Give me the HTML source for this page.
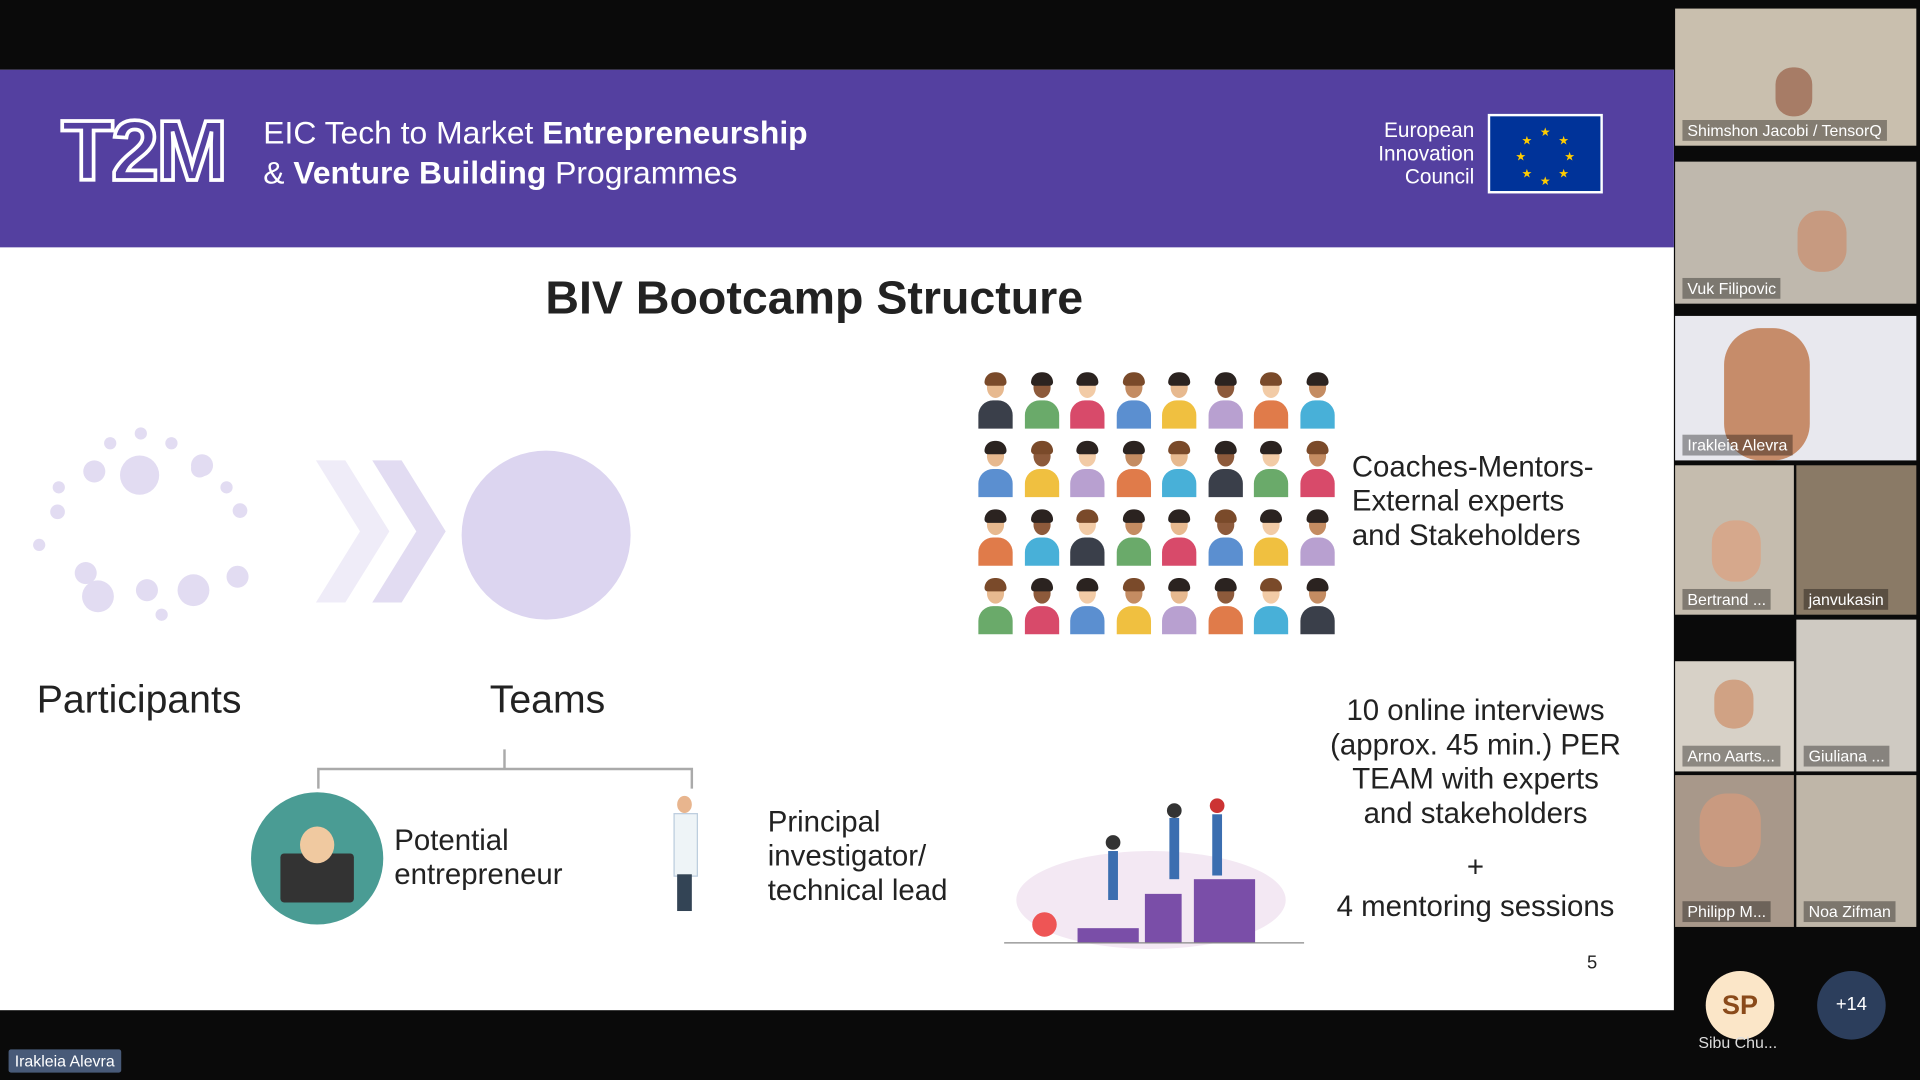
<!DOCTYPE html>
<html><head><meta charset="utf-8"><style>
html,body{margin:0;padding:0;background:#000;width:1920px;height:1080px;overflow:hidden}
#s{position:absolute;left:0;top:0;width:1568px;height:882px;transform:scale(1.22449);transform-origin:0 0;background:#0a0a0a;font-family:"Liberation Sans",sans-serif}
.a{position:absolute}
.t{color:#222;font-size:24px;line-height:28px}
.tile{position:absolute;background:#6b625a;overflow:hidden}
.nm{position:absolute;left:6px;bottom:4px;color:#fff;font-size:13px;background:rgba(0,0,0,.35);padding:1px 4px}
.av{position:absolute;width:30px;height:46px}
.av .h{position:absolute;left:8px;top:4px;width:14px;height:17px;border-radius:50%;background:#e7b98f}
.av .hr{position:absolute;left:6px;top:0;width:18px;height:11px;border-radius:9px 9px 3px 3px;background:#333}
.av .b{position:absolute;left:1px;top:23px;width:28px;height:23px;border-radius:12px 12px 0 0;background:#3a3f4a}
</style></head><body><div id="s">
<div class="a" style="left:0;top:57px;width:1367px;height:768px;background:#fff"></div>
<div class="a" style="left:0;top:57px;width:1367px;height:145px;background:#5440a0"></div>
<div class="a" style="left:50px;top:88px;font-size:70px;line-height:70px;color:transparent;-webkit-text-stroke:3px #fff;font-weight:bold;letter-spacing:-2px">T2M</div>
<div class="a" style="left:215px;top:92px;color:#fff;font-size:26px;line-height:33px">EIC Tech to Market <b>Entrepreneurship</b><br>&amp; <b>Venture Building</b> Programmes</div>
<div class="a" style="left:1100px;top:97px;width:104px;text-align:right;color:#fff;font-size:17px;line-height:19px">European<br>Innovation<br>Council</div>
<div class="a" style="left:1215px;top:93px;width:90px;height:61px;background:#003399;border:2px solid #fff"><svg width="90" height="61"><g fill="#fc0" font-size="10" text-anchor="middle"><text x="45" y="16">★</text><text x="45" y="56">★</text><text x="25" y="36">★</text><text x="65" y="36">★</text><text x="30" y="23">★</text><text x="60" y="23">★</text><text x="30" y="50">★</text><text x="60" y="50">★</text></g></svg></div>
<div class="a" style="left:0;top:222px;width:1330px;text-align:center;font-size:38px;line-height:44px;color:#222;font-weight:bold">BIV Bootcamp Structure</div>
<svg class="a" style="left:20px;top:340px" width="520" height="180">
<g fill="#e2dcf2"><circle cx="94" cy="48" r="16"/><circle cx="57" cy="45" r="9"/><circle cx="143" cy="43" r="7"/><circle cx="145" cy="40" r="9"/><circle cx="27" cy="78" r="6"/><circle cx="50" cy="128" r="9"/><circle cx="60" cy="147" r="13"/><circle cx="100" cy="142" r="9"/><circle cx="138" cy="142" r="13"/><circle cx="174" cy="131" r="9"/><circle cx="176" cy="77" r="6"/><circle cx="12" cy="105" r="5"/><circle cx="95" cy="14" r="5"/><circle cx="70" cy="22" r="5"/><circle cx="120" cy="22" r="5"/><circle cx="112" cy="162" r="5"/><circle cx="165" cy="58" r="5"/><circle cx="28" cy="58" r="5"/></g>
<polygon points="238,36 262,36 298,94 262,152 238,152 274,94" fill="#efecf8"/><polygon points="284,36 308,36 344,94 308,152 284,152 320,94" fill="#e2dcf2"/>
<circle cx="426" cy="97" r="69" fill="#dcd5f0"/></svg>
<div class="a t" style="left:30px;top:553px;font-size:32px;line-height:36px">Participants</div>
<div class="a t" style="left:400px;top:553px;font-size:32px;line-height:36px">Teams</div>
<svg class="a" style="left:255px;top:610px" width="320" height="40"><path d="M157 2V18M5 34V18H310V34" stroke="#aaa" stroke-width="2" fill="none"/></svg>
<div class="a" style="left:205px;top:647px;width:108px;height:108px;border-radius:50%;background:#4a9c94"><div class="a" style="left:24px;top:50px;width:60px;height:40px;background:#333;border-radius:3px"></div><div class="a" style="left:40px;top:28px;width:28px;height:30px;border-radius:50%;background:#f0c9a0"></div></div>
<div class="a t" style="left:322px;top:673px">Potential<br>entrepreneur</div>
<div class="a" style="left:548px;top:650px;width:22px;height:100px"><div class="a" style="left:5px;top:0;width:12px;height:14px;border-radius:50%;background:#e8b58e"></div><div class="a" style="left:2px;top:14px;width:18px;height:50px;background:#eef4f7;border:1px solid #bcd"></div><div class="a" style="left:5px;top:64px;width:12px;height:30px;background:#345"></div></div>
<div class="a t" style="left:627px;top:658px">Principal<br>investigator/<br>technical lead</div>
<div id="g" class="a" style="left:795px;top:300px;width:300px;height:220px"></div>
<div class="a t" style="left:1104px;top:368px">Coaches-Mentors-<br>External experts<br>and Stakeholders</div>
<svg class="a" style="left:820px;top:640px" width="250" height="135"><ellipse cx="120" cy="95" rx="110" ry="40" fill="#f3e8f3"/><rect x="115" y="90" width="30" height="40" fill="#7a4ea8"/><rect x="155" y="78" width="50" height="52" fill="#7a4ea8"/><rect x="60" y="118" width="50" height="12" fill="#7a4ea8"/><g fill="#3b6eb0"><rect x="85" y="55" width="8" height="40"/><rect x="135" y="28" width="8" height="50"/><rect x="170" y="25" width="8" height="50"/></g><circle cx="89" cy="48" r="6" fill="#333"/><circle cx="139" cy="22" r="6" fill="#333"/><circle cx="174" cy="18" r="6" fill="#c33"/><circle cx="33" cy="115" r="10" fill="#e55"/><path d="M0 130H245" stroke="#888"/></svg>
<div class="a t" style="left:1075px;top:567px;width:260px;text-align:center;line-height:28px">10 online interviews<br>(approx. 45 min.) PER<br>TEAM with experts<br>and stakeholders<br><br><span style="position:relative;top:-12px">+</span></div>
<div class="a t" style="left:1075px;top:727px;width:260px;text-align:center">4 mentoring sessions</div>
<div class="a" style="left:1296px;top:778px;font-size:15px;color:#222">5</div>
<div class="tile" style="left:1368px;top:7px;width:197px;height:112px;background:#c9bfae"><div class="a" style="left:82px;top:48px;width:30px;height:40px;border-radius:14px;background:#a77c66"></div><div class="nm">Shimshon Jacobi / TensorQ</div></div>
<div class="tile" style="left:1368px;top:132px;width:197px;height:116px;background:#bfb8ad"><div class="a" style="left:100px;top:40px;width:40px;height:50px;border-radius:18px;background:#c79a80"></div><div class="nm">Vuk Filipovic</div></div>
<div class="tile" style="left:1368px;top:258px;width:197px;height:118px;background:#e8e8ee"><div class="a" style="left:40px;top:10px;width:70px;height:108px;border-radius:30px;background:#c68c6a"></div><div class="nm">Irakleia Alevra</div></div>
<div class="tile" style="left:1368px;top:380px;width:97px;height:122px;background:#c5bcae"><div class="a" style="left:30px;top:45px;width:40px;height:50px;border-radius:18px;background:#d6a88c"></div><div class="nm">Bertrand ...</div></div>
<div class="tile" style="left:1467px;top:380px;width:98px;height:122px;background:#8a7a66"><div class="nm">janvukasin</div></div>
<div class="tile" style="left:1368px;top:540px;width:97px;height:90px;background:#d7d1c7"><div class="a" style="left:32px;top:15px;width:32px;height:40px;border-radius:15px;background:#d0a284"></div><div class="nm">Arno Aarts...</div></div>
<div class="tile" style="left:1467px;top:506px;width:98px;height:124px;background:#cfcac2"><div class="nm">Giuliana ...</div></div>
<div class="tile" style="left:1368px;top:633px;width:97px;height:124px;background:#a8988a"><div class="a" style="left:20px;top:15px;width:50px;height:60px;border-radius:22px;background:#c99a80"></div><div class="nm">Philipp M...</div></div>
<div class="tile" style="left:1467px;top:633px;width:98px;height:124px;background:#bfb6a8"><div class="nm">Noa Zifman</div></div>
<div class="a" style="left:1393px;top:793px;width:56px;height:56px;border-radius:50%;background:#fbe6c8;color:#8a4a1a;font-size:22px;text-align:center;line-height:56px;font-weight:bold">SP</div>
<div class="a" style="left:1387px;top:844px;color:#ddd;font-size:13px">Sibu Chu...</div>
<div class="a" style="left:1484px;top:793px;width:56px;height:56px;border-radius:50%;background:#2c3e5c;color:#fff;font-size:15px;text-align:center;line-height:56px">+14</div>
<div class="a" style="left:7px;top:857px;background:#485a78;color:#fff;font-size:13px;padding:2px 5px;border-radius:2px">Irakleia Alevra</div>
</div>
<script>
var g=document.getElementById('g'),cols=['#3a3f4a','#5b8fd0','#e07b4a','#6aaa6a','#f0c040','#48b0d8','#d84a6a','#b8a0d0'],sk=['#e7b98f','#8d5a3b','#f2cba6','#c48c62'],h='';
for(var r=0;r<4;r++)for(var c=0;c<8;c++){var i=r*8+c;h+='<div class="av" style="left:'+(3+c*37.5)+'px;top:'+(4+r*56)+'px"><div class="b" style="background:'+cols[(i*3+r)%8]+'"></div><div class="h" style="background:'+sk[(i*5)%4]+'"></div><div class="hr" style="background:'+(i%3?'#2b2320':'#7a4a2a')+'"></div></div>';}
g.innerHTML=h;
</script>
</body></html>
